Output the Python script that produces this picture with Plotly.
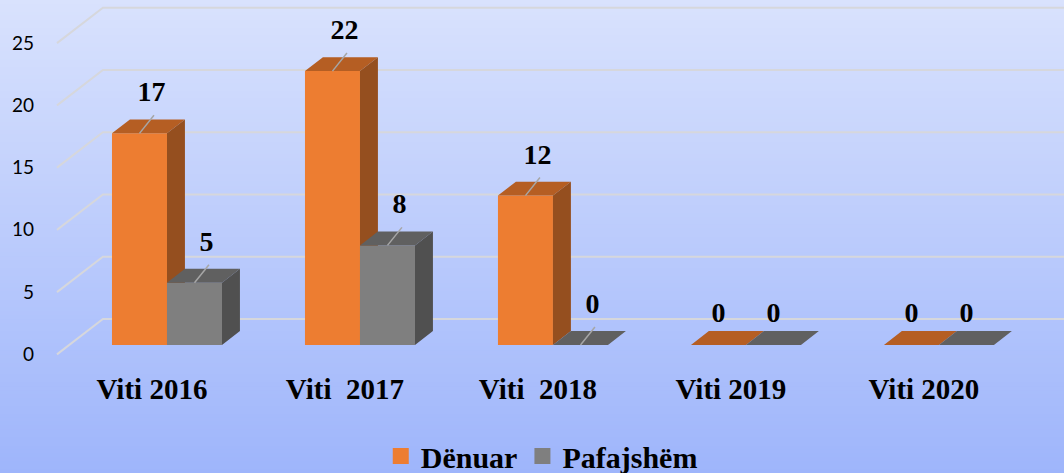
import plotly.graph_objects as go

# ---------------- data ----------------
categories = ["Viti 2016", "Viti  2017", "Viti  2018", "Viti 2019", "Viti 2020"]
denuar = [17, 22, 12, 0, 0]
pafajshem = [5, 8, 0, 0, 0]
series_names = ["Dënuar", "Pafajshëm"]
y_ticks = [0, 5, 10, 15, 20, 25]

# ---------------- style / geometry ----------------
W, H = 1064, 473
M_L, M_R, M_T, M_B = 40, 0, 0, 108
X_RANGE = [-0.658, 4.648]
Y_RANGE = [-1.606, 27.711]
BAR_W = 0.285          # width of one front face (category units)
DX, DY = 0.093, 1.12   # 3-D depth offset of bars
WALL_DY = 2.09         # back wall offset from bar front plane
DIAG_X0, DIAG_X1, DIAG_FRONT = -0.570, -0.332, -0.75
LABEL_DX, LABEL_DY, LABEL_DY_FLAT = 0.062, 3.13, 2.4
LEAD_DX, LEAD_DY = 0.075, 1.45

colors = {
    "Dënuar": {"front": "#ED7D31", "top": "#B55E23", "side": "#954F1F"},
    "Pafajshëm": {"front": "#7F7F7F", "top": "#606060", "side": "#505050"},
}
serif = "Liberation Serif"

fig = go.Figure()

# background gradient
N = 120
top_rgb = (217, 226, 253)
bot_rgb = (158, 181, 251)
plot_h = H - M_T - M_B
plot_w = W - M_L - M_R
for k in range(N):
    t = (k + 0.5) / N
    c = tuple(round(top_rgb[j] + (bot_rgb[j] - top_rgb[j]) * t) for j in range(3))
    py0 = k * H / N
    py1 = (k + 1) * H / N + 1
    fig.add_shape(type="rect", xref="paper", yref="paper",
                  x0=-M_L / plot_w, x1=1 + M_R / plot_w,
                  y0=(plot_h + M_T - py1) / plot_h, y1=(plot_h + M_T - py0) / plot_h,
                  line_width=0, fillcolor="rgb(%d,%d,%d)" % c, layer="below")

# back-wall gridlines (from tick values)
gx, gy = [], []
for t in y_ticks:
    gx += [DIAG_X0, DIAG_X1, X_RANGE[1], None]
    gy += [t + DIAG_FRONT, t + WALL_DY, t + WALL_DY, None]
fig.add_trace(go.Scatter(x=gx, y=gy, mode="lines", line=dict(color="#D6D7DC", width=2),
                         showlegend=False, hoverinfo="skip"))


def faces(x0, x1, v):
    return {
        "front": [(x0, 0), (x1, 0), (x1, v), (x0, v)],
        "top": [(x0, v), (x1, v), (x1 + DX, v + DY), (x0 + DX, v + DY)],
        "side": [(x1, 0), (x1 + DX, DY), (x1 + DX, v + DY), (x1, v)],
    }


series = [("Dënuar", denuar, -BAR_W), ("Pafajshëm", pafajshem, 0.0)]
for name, vals, off in series:
    for face in ["front", "top", "side"]:
        xs, ys = [], []
        for i, v in enumerate(vals):
            pts = faces(i + off, i + off + BAR_W, v)[face]
            xs += [p[0] for p in pts] + [pts[0][0], None]
            ys += [p[1] for p in pts] + [pts[0][1], None]
        fig.add_trace(go.Scatter(x=xs, y=ys, mode="none", fill="toself",
                                 fillcolor=colors[name][face], showlegend=False,
                                 hoverinfo="skip"))

# data labels + leader lines
lx, ly, tx, ty, tt = [], [], [], [], []
for name, vals, off in series:
    for i, v in enumerate(vals):
        cx = i + off + BAR_W / 2
        has_any = (denuar[i] + pafajshem[i]) > 0
        if has_any:
            lx += [cx, cx + LEAD_DX, None]
            ly += [v, v + LEAD_DY, None]
            tx.append(cx + LABEL_DX)
            ty.append(v + LABEL_DY)
        else:
            tx.append(cx)
            ty.append(v + LABEL_DY_FLAT)
        tt.append(str(v))
fig.add_trace(go.Scatter(x=lx, y=ly, mode="lines", line=dict(color="#A6A6A6", width=1.5),
                         showlegend=False, hoverinfo="skip"))
fig.add_trace(go.Scatter(x=tx, y=ty, mode="text", text=tt, textposition="middle center",
                         textfont=dict(family=serif, size=28, color="black", weight="bold"),
                         showlegend=False, hoverinfo="skip"))

# legend entries
for name in series_names:
    fig.add_trace(go.Scatter(x=[None], y=[None], mode="markers", name=name,
                             marker=dict(symbol="square", size=16, color=colors[name]["front"])))

fig.update_layout(
    width=W, height=H,
    margin=dict(l=M_L, r=M_R, t=M_T, b=M_B, autoexpand=False),
    font=dict(family=serif, color="black"),
    paper_bgcolor="#C0CEFC", plot_bgcolor="rgba(0,0,0,0)",
    hovermode=False,
    legend=dict(orientation="h", x=0.49, xanchor="center", y=-0.249, yanchor="middle",
                font=dict(family=serif, size=30, color="black", weight="bold"),
                bgcolor="rgba(0,0,0,0)", itemwidth=30),
    xaxis=dict(range=X_RANGE, showgrid=False, zeroline=False, showline=False,
               tickvals=[i - 0.078 for i in range(len(categories))], ticktext=categories,
               tickfont=dict(family=serif, size=29, color="black", weight="bold"),
               ticklabelstandoff=4, fixedrange=True, automargin=False),
    yaxis=dict(range=Y_RANGE, showgrid=False, zeroline=False, showline=False,
               tickvals=[t + DIAG_FRONT for t in y_ticks], ticktext=[str(t) for t in y_ticks],
               tickfont=dict(family="Lato", size=19, color="black"),
               ticklabelstandoff=5, fixedrange=True, automargin=False),
)

fig.write_html("out.html", config={"displayModeBar": False},
               post_script="document.body.style.margin='0';document.body.style.overflow='hidden';")
